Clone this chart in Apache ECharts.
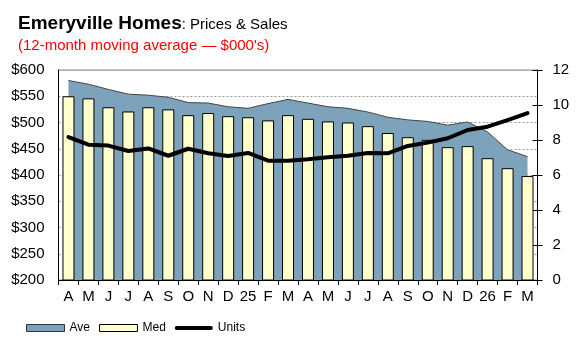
<!DOCTYPE html>
<html>
<head>
<meta charset="utf-8">
<script src="https://cdn.jsdelivr.net/npm/echarts@6/dist/echarts.min.js"></script>
<style>html,body{margin:0;padding:0;background:#fff;}#c{width:577px;height:344px;}</style>
</head>
<body>
<div id="c"></div>
<script>
const categories = ['A','M','J','J','A','S','O','N','D','25','F','M','A','M','J','J','A','S','O','N','D','26','F','M'];
const aveValues = [580, 573, 563, 554, 552, 548, 538, 537, 530, 527, 536, 544, 537, 530, 527, 520, 510, 505, 502, 495, 501, 482, 448, 435];
const medValues = [550, 546, 529, 521, 529, 525, 514, 518, 512, 510, 504, 514, 507, 502, 500, 493, 480, 472, 467, 453, 455, 432, 413, 398];
const unitValues = [8.17, 7.73, 7.68, 7.37, 7.52, 7.10, 7.50, 7.24, 7.09, 7.26, 6.82, 6.82, 6.90, 7.01, 7.10, 7.26, 7.24, 7.66, 7.85, 8.10, 8.57, 8.76, 9.14, 9.54];
const seriesNames = ['Ave', 'Med', 'Units'];

const FONT = 'Arial, "Liberation Sans", sans-serif';
const AREA = '#7ca2bc';
const BAR = '#ffffcc';

const chart = echarts.init(document.getElementById('c'), null, {renderer: 'canvas'});
chart.setOption({
  animation: false,
  backgroundColor: '#fff',
  textStyle: {fontFamily: FONT},
  title: {
    left: 13, top: 9, itemGap: 5,
    text: '{b|Emeryville Homes}{n|: Prices & Sales}',
    textStyle: {
      fontWeight: 'normal',
      rich: {
        b: {fontSize: 19, fontWeight: 'bold', color: '#000', fontFamily: FONT, verticalAlign: 'bottom'},
        n: {fontSize: 15, fontWeight: 'normal', color: '#000', fontFamily: FONT, verticalAlign: 'bottom', padding: [0, 0, 1, 0]}
      }
    },
    subtext: "(12-month moving average \u2014 $000's)",
    subtextStyle: {fontSize: 15, color: '#ff0000', fontFamily: FONT}
  },
  legend: {
    left: 21, top: 317, itemWidth: 38, itemHeight: 7, itemGap: 9,
    textStyle: {fontSize: 12, color: '#000', fontFamily: FONT},
    data: [
      {name: seriesNames[0], icon: 'rect', itemStyle: {color: AREA, borderColor: '#333', borderWidth: 1}},
      {name: seriesNames[1], icon: 'rect', itemStyle: {color: BAR, borderColor: '#000', borderWidth: 1}},
      {name: seriesNames[2], icon: 'path://M0,0 M1.8,1.6 L36.2,1.6 A1.9,1.9 0 0 1 36.2,5.4 L1.8,5.4 A1.9,1.9 0 0 1 1.8,1.6 Z M38,7', itemStyle: {color: '#000', borderWidth: 0}}
    ]
  },
  grid: {left: 58.5, right: 39.5, top: 70, bottom: 64, show: true, borderColor: '#888', borderWidth: 1, backgroundColor: 'transparent'},
  xAxis: {
    type: 'category', data: categories, boundaryGap: true,
    axisLine: {lineStyle: {color: '#000', width: 1}},
    axisTick: {show: true, length: 5, lineStyle: {color: '#000'}},
    axisLabel: {interval: 0, fontSize: 15, color: '#000', margin: 9, fontFamily: FONT},
    splitLine: {show: false}
  },
  yAxis: [
    {
      type: 'value', min: 200, max: 600, interval: 50, position: 'left',
      axisLine: {show: true, lineStyle: {color: '#000'}},
      axisTick: {show: false},
      axisLabel: {fontSize: 15, color: '#000', margin: 14, formatter: '${value}', fontFamily: FONT},
      splitLine: {show: true, lineStyle: {color: '#999', type: [2, 2], width: 1}}
    },
    {
      type: 'value', min: 0, max: 12, interval: 2, position: 'right',
      axisLine: {show: true, lineStyle: {color: '#000'}},
      axisTick: {show: true, inside: false, length: 5, lineStyle: {color: '#000'}},
      axisLabel: {fontSize: 15, color: '#000', margin: 15, fontFamily: FONT},
      splitLine: {show: false}
    },
    {
      type: 'value', min: 0, max: 12, interval: 2, position: 'right',
      axisLine: {show: false},
      axisTick: {show: true, inside: true, length: 5, lineStyle: {color: '#000'}},
      axisLabel: {show: false},
      splitLine: {show: false}
    }
  ],
  series: [
    {
      name: seriesNames[0], type: 'line', data: aveValues, yAxisIndex: 0, z: 1,
      symbol: 'none', smooth: false,
      lineStyle: {color: '#444', width: 1},
      itemStyle: {color: AREA},
      areaStyle: {color: AREA, opacity: 1, origin: 'start'}
    },
    {
      name: seriesNames[1], type: 'bar', data: medValues, yAxisIndex: 0, z: 2,
      barWidth: 12,
      itemStyle: {color: BAR, borderColor: '#000', borderWidth: 1}
    },
    {
      name: seriesNames[2], type: 'line', data: unitValues, yAxisIndex: 1, z: 3,
      symbol: 'none', smooth: false,
      lineStyle: {color: '#000', width: 4, cap: 'round', join: 'round'},
      itemStyle: {color: '#000'}
    }
  ]
});
</script>
</body>
</html>
